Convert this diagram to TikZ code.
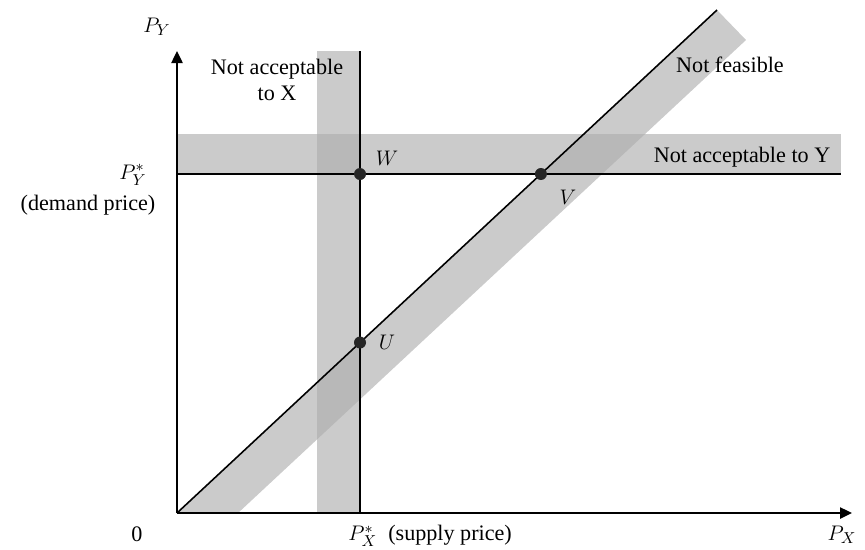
\documentclass[tikz,border=0pt]{standalone}
\usepackage{fontspec}
\setmainfont{Liberation Serif}
\usetikzlibrary{arrows.meta}
\begin{document}
\begin{tikzpicture}[x=0.02cm,y=-0.02cm,
  bandbase/.style={fill=black!12,draw=none},
  band/.style={fill=black,fill opacity=0.09,draw=none},
  axisline/.style={line width=1.4pt,-{Triangle[length=2.4mm,width=2.2mm]}},
  refline/.style={line width=1.1pt},
  dot/.style={circle,fill=black!85,inner sep=0pt,minimum size=0.24cm},
  lbl/.style={font=\fontsize{12.6}{15}\selectfont,inner sep=0pt},
]
\useasboundingbox (0,0) rectangle (865,549);
% coordinates
\coordinate (O) at (177,513);
\coordinate (Ytip) at (177,51);
\coordinate (Xtip) at (852,513);
\coordinate (Vb) at (360,513);
\coordinate (Vt) at (360,51);
\coordinate (Hl) at (177,174);
\coordinate (Hr) at (841,174);
\coordinate (Dt) at (717,10);
% bands
\fill[bandbase] (317,51) rectangle (360,513);
\fill[bandbase] (177,134) rectangle (841,174);
\fill[bandbase] (O) -- (Dt) -- (746,40) -- (238,513) -- cycle;
\fill[band] (317,51) rectangle (360,513);
\fill[band] (177,134) rectangle (841,174);
\fill[band] (O) -- (Dt) -- (746,40) -- (238,513) -- cycle;
% lines
\draw[refline] (Vb) -- (Vt);
\draw[refline] (Hl) -- (Hr);
\draw[line width=0.9pt] (O) -- (Dt);
\draw[axisline] (O) -- (Ytip);
\draw[axisline] (O) -- (Xtip);
% points
\node[dot] (W) at (360,174) {};
\node[dot] (V) at (540.9,174) {};
\node[dot] (U) at (360,342.5) {};
% labels
\node[lbl] (Wl) at (387,158) {$W$};
\node[lbl] (Vl) at (568,197) {$V$};
\node[lbl] (Ul) at (387,342) {$U$};
\node[lbl] (PY) at (157,27) {$P_Y$};
\node[lbl,align=center] (NAX) at (277,80) {Not acceptable\\to X};
\node[lbl] (NF) at (730,65) {Not feasible};
\node[lbl] (NAY) at (742,157) {Not acceptable to Y};
\node[lbl] (PYs) at (133,175) {$P_Y^*$};
\node[lbl] (DP) at (88,205) {(demand price)};
\node[lbl] (Z) at (137,534) {0};
\node[lbl,anchor=west] (PXs) at (348,536) {$P_X^*$\ \ (supply price)};
\node[lbl] (PX) at (842,535) {$P_X$};
\end{tikzpicture}
\end{document}
